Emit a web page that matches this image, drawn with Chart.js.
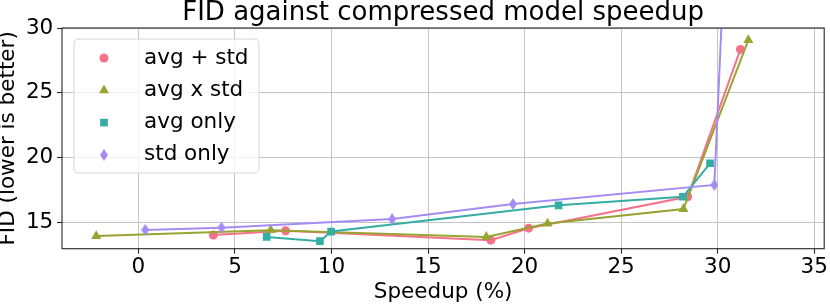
<!DOCTYPE html>
<html>
<head>
<meta charset="utf-8">
<script src="https://cdn.jsdelivr.net/npm/chart.js@4/dist/chart.umd.min.js"></script>
<style>
  html, body { margin: 0; padding: 0; background: #ffffff; }
  #wrap { width: 830px; height: 305px; position: relative; }
</style>
</head>
<body>
<div id="wrap"><canvas id="c" width="830" height="305"></canvas></div>
<script>
// ---- data ----
const seriesLabels = ["avg + std", "avg x std", "avg only", "std only"];
const avgPlusStdX = [3.88, 7.62, 18.25, 20.21, 28.45, 31.18];
const avgPlusStdY = [14.05, 14.38, 13.66, 14.58, 17.0, 28.35];
const avgXStdX = [-2.19, 6.85, 18.02, 21.19, 28.23, 31.59];
const avgXStdY = [13.97, 14.43, 13.91, 14.94, 16.05, 29.07];
const avgOnlyX = [6.64, 9.40, 9.98, 21.76, 28.2, 29.61];
const avgOnlyY = [13.91, 13.58, 14.32, 16.34, 17.0, 19.58];
const stdOnlyX = [0.35, 4.30, 13.14, 19.4, 29.83, 33.7];
const stdOnlyY = [14.45, 14.62, 15.28, 16.44, 17.91, 147];
const xTicks = [0, 5, 10, 15, 20, 25, 30, 35];
const yTicks = [15, 20, 25, 30];
const titleText = "FID against compressed model speedup";
const xTitle = "Speedup (%)";
const yTitle = "FID (lower is better)";

const colors = ['#f77189', '#97a431', '#36ada4', '#a48cf4'];
const FONT = "'DejaVu Sans', sans-serif";
const FS = 21.5;

function thinDiamond(w, h, color) {
  const c = document.createElement('canvas');
  c.width = w; c.height = h;
  const g = c.getContext('2d');
  g.fillStyle = color;
  g.beginPath();
  g.moveTo(w / 2, 0); g.lineTo(w, h / 2); g.lineTo(w / 2, h); g.lineTo(0, h / 2);
  g.closePath(); g.fill();
  return c;
}
const diamondImg = thinDiamond(8, 12, colors[3]);

function pts(xs, ys) { return xs.map((x, i) => ({ x: x, y: ys[i] })); }

const styles = ['circle', 'triangle', 'rect', diamondImg];
const radii = [4.5, 5.8, 5.4, 5];
const xsArr = [avgPlusStdX, avgXStdX, avgOnlyX, stdOnlyX];
const ysArr = [avgPlusStdY, avgXStdY, avgOnlyY, stdOnlyY];

const datasets = seriesLabels.map((lab, i) => ({
  label: lab,
  data: pts(xsArr[i], ysArr[i]),
  showLine: true,
  borderColor: colors[i],
  backgroundColor: colors[i],
  pointBackgroundColor: colors[i],
  pointBorderColor: colors[i],
  pointBorderWidth: 0,
  borderWidth: 2,
  pointStyle: styles[i],
  pointRadius: radii[i],
  pointHoverRadius: radii[i],
  order: 3 - i
}));

function drawMarker(ctx, style, x, y, r, color) {
  ctx.save();
  ctx.fillStyle = color;
  if (style === 'circle') {
    ctx.beginPath(); ctx.arc(x, y, r, 0, Math.PI * 2); ctx.fill();
  } else if (style === 'triangle') {
    ctx.beginPath();
    ctx.moveTo(x, y - r);
    ctx.lineTo(x + r * 0.87, y + r * 0.5);
    ctx.lineTo(x - r * 0.87, y + r * 0.5);
    ctx.closePath(); ctx.fill();
  } else if (style === 'rect') {
    const s = r * Math.SQRT2;
    ctx.fillRect(x - s / 2, y - s / 2, s, s);
  } else {
    ctx.drawImage(style, x - style.width / 2, y - style.height / 2);
  }
  ctx.restore();
}

const framePlugin = {
  id: 'frame',
  afterDatasetsDraw(chart) {
    const { ctx, chartArea: a } = chart;
    ctx.save();
    ctx.strokeStyle = '#262626';
    ctx.lineWidth = 1.1;
    ctx.strokeRect(a.left, a.top, a.right - a.left, a.bottom - a.top);
    ctx.restore();
  },
  afterDraw(chart) {
    // legend inside the axes (upper left)
    const ctx = chart.ctx;
    const a = chart.chartArea;
    const bx = a.left + 12, by = a.top + 11, bw = 185, bh = 134, rad = 5;
    ctx.save();
    ctx.beginPath();
    ctx.moveTo(bx + rad, by);
    ctx.lineTo(bx + bw - rad, by); ctx.quadraticCurveTo(bx + bw, by, bx + bw, by + rad);
    ctx.lineTo(bx + bw, by + bh - rad); ctx.quadraticCurveTo(bx + bw, by + bh, bx + bw - rad, by + bh);
    ctx.lineTo(bx + rad, by + bh); ctx.quadraticCurveTo(bx, by + bh, bx, by + bh - rad);
    ctx.lineTo(bx, by + rad); ctx.quadraticCurveTo(bx, by, bx + rad, by);
    ctx.closePath();
    ctx.fillStyle = 'rgba(255,255,255,0.8)';
    ctx.fill();
    ctx.strokeStyle = '#d6d6d6';
    ctx.lineWidth = 1;
    ctx.stroke();
    ctx.font = FS + 'px ' + FONT;
    ctx.textBaseline = 'middle';
    ctx.textAlign = 'left';
    chart.data.datasets.forEach((ds, i) => {
      const y = by + 19 + i * 32.3;
      drawMarker(ctx, styles[i], bx + 30, y, radii[i], colors[i]);
      ctx.fillStyle = '#000000';
      ctx.fillText(ds.label, bx + 70, y);
    });
    ctx.restore();
  }
};

new Chart(document.getElementById('c'), {
  type: 'scatter',
  data: { datasets: datasets },
  plugins: [framePlugin],
  options: {
    responsive: false,
    animation: false,
    events: [],
    layout: { padding: { left: 0, right: 3.3, top: 0, bottom: 0 } },
    plugins: {
      legend: { display: false },
      tooltip: { enabled: false },
      title: {
        display: true,
        fullSize: false,
        text: titleText,
        color: '#000000',
        font: { family: FONT, size: 26, weight: 'normal', lineHeight: 1.0 },
        padding: { top: 0, bottom: 2 }
      }
    },
    scales: {
      x: {
        type: 'linear',
        min: -3.96,
        max: 35.52,
        afterBuildTicks: (s) => { s.ticks = xTicks.map(v => ({ value: v })); },
        afterFit: (s) => { s.height = 56.3; },
        grid: { color: '#c4c4c4', lineWidth: 1, drawTicks: true, tickLength: 5, tickColor: '#262626', tickWidth: 1.1 },
        border: { display: false },
        ticks: { color: '#000000', padding: 0.9, maxRotation: 0, autoSkip: false,
                 font: { family: FONT, size: FS, lineHeight: 1.2 } },
        title: { display: true, text: xTitle, color: '#000000',
                 font: { family: FONT, size: FS, lineHeight: 1.2 }, padding: { top: 0, bottom: 0 } }
      },
      y: {
        type: 'linear',
        min: 13,
        max: 30,
        afterBuildTicks: (s) => { s.ticks = yTicks.map(v => ({ value: v })); },
        afterFit: (s) => { s.width = 62; },
        grid: { color: '#c4c4c4', lineWidth: 1, drawTicks: true, tickLength: 5, tickColor: '#262626', tickWidth: 1.1 },
        border: { display: false },
        ticks: { color: '#000000', padding: 3.7, autoSkip: false,
                 font: { family: FONT, size: FS, lineHeight: 1.2 } },
        title: { display: true, text: yTitle, color: '#000000',
                 font: { family: FONT, size: FS, lineHeight: 0.8 }, padding: { top: 0, bottom: 0 } }
      }
    }
  }
});
</script>
</body>
</html>
